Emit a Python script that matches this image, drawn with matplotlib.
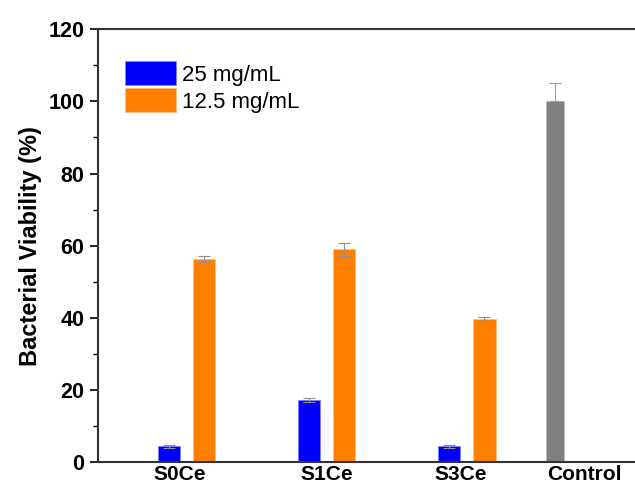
import matplotlib.pyplot as plt
import numpy as np

plt.rcParams['font.family'] = ['Liberation Sans', 'DejaVu Sans']

groups = ["S0Ce", "S1Ce", "S3Ce"]
v25 = [4.4, 17.3, 4.4]
e25 = [0.5, 0.5, 0.4]
v125 = [56.3, 59.0, 39.7]
e125 = [0.7, 1.8, 0.5]
control = 100.0
control_err = 5.0

fig = plt.figure(figsize=(6.35, 4.86), dpi=100)
ax = fig.add_axes([0.154, 0.049, 0.846, 0.891])

x = np.arange(len(groups))
w = 0.16
ax.bar(x - 0.125, v25, w, color='#0000ff', edgecolor='#8080ff', linewidth=0.6,
       yerr=e25, error_kw=dict(ecolor='#909090', elinewidth=0.8, capsize=4, capthick=0.8),
       label='25 mg/mL')
ax.bar(x + 0.125, v125, w, color='#ff8000', edgecolor='#ffc080', linewidth=0.6,
       yerr=e125, error_kw=dict(ecolor='#909090', elinewidth=0.8, capsize=4, capthick=0.8),
       label='12.5 mg/mL')
# control: only the upper half of the error bar shows above the bar
ax.bar(2.63, control, 0.13, color='#808080', edgecolor='#c0c0c0', linewidth=0.6,
       yerr=[[0], [control_err]],
       error_kw=dict(ecolor='#a0a0a0', elinewidth=0.8, capsize=4, capthick=0.8))

ax.set_xlim(-0.632, 3.2)
ax.set_ylim(0, 120)
ax.set_xticks([-0.046, 1.0, 1.96, 2.84])
ax.set_xticklabels(groups + ["Control"], fontsize=15, fontweight='bold')
ax.tick_params(axis='x', length=0, pad=2)
ax.set_yticks(np.arange(0, 121, 20))
ax.set_yticks(np.arange(10, 120, 20), minor=True)
ax.tick_params(axis='y', which='major', direction='out', length=6, width=1.2, labelsize=15.5)
ax.tick_params(axis='y', which='minor', direction='out', length=3.5, width=1.0)
for t in ax.get_yticklabels():
    t.set_fontweight('bold')
ax.set_ylabel("Bacterial Viability (%)", fontsize=17, fontweight='bold', labelpad=5)

ax.spines['right'].set_visible(False)
for s in ['left', 'top', 'bottom']:
    ax.spines[s].set_linewidth(1.5)
    ax.spines[s].set_color('#333333')

ax.legend(loc='upper left', bbox_to_anchor=(0.05, 0.926), frameon=False, fontsize=16,
          handlelength=2.3, handleheight=1.3, labelspacing=0.1, handletextpad=0.3,
          borderaxespad=0, borderpad=0)

fig.savefig("out.png", dpi=100)
